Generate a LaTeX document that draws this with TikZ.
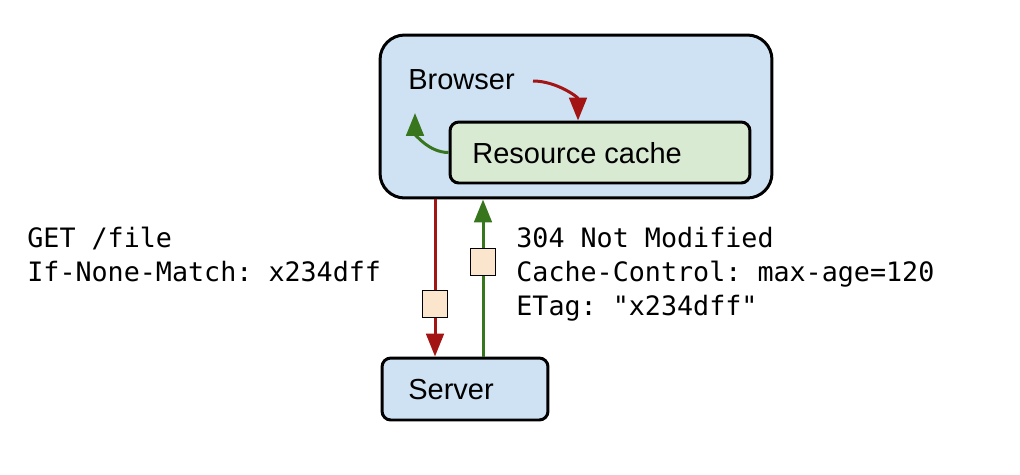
\documentclass[tikz,border=0pt]{standalone}
\usepackage{fontspec}
\setmainfont{Liberation Sans}
\setmonofont{DejaVu Sans Mono}
\usetikzlibrary{arrows.meta}

\definecolor{boxblue}{HTML}{CFE2F3}
\definecolor{boxgreen}{HTML}{D9EAD3}
\definecolor{msgpeach}{HTML}{FCE5CD}
\definecolor{reqred}{HTML}{A31515}
\definecolor{respgreen}{HTML}{38761D}

\tikzset{
  bigbox/.style={draw, line width=1.7pt, rounded corners=14pt, fill=boxblue,
    minimum width=7.84cm, minimum height=3.26cm, inner sep=0pt},
  cachebox/.style={draw, line width=1.7pt, rounded corners=5pt, fill=boxgreen,
    minimum width=6cm, minimum height=1.22cm, inner sep=0pt},
  serverbox/.style={draw, line width=1.7pt, rounded corners=5pt, fill=boxblue,
    minimum width=3.32cm, minimum height=1.24cm, inner sep=0pt},
  msg/.style={draw, line width=1.1pt, fill=msgpeach,
    minimum width=0.5cm, minimum height=0.54cm, inner sep=0pt},
  lbl/.style={font=\fontsize{16.5}{20}\selectfont, inner sep=0pt},
  hdr/.style={font=\ttfamily\fontsize{15.2}{19.3}\selectfont, align=left, inner sep=0pt},
  reqarrow/.style={draw=reqred, line width=1.7pt,
    -{Triangle[width=10pt,length=13pt]}},
  resparrow/.style={draw=respgreen, line width=1.7pt,
    -{Triangle[width=10pt,length=13pt]}},
}

\begin{document}
\begin{tikzpicture}[x=0.02cm, y=-0.02cm]
    \useasboundingbox (0,0) rectangle (1020,474);

    % boxes
    \node[bigbox] (browser) at (576,116.5) {};
    \node[cachebox] (cache) at (600,152.5) {};
    \node[serverbox] (server) at (465,389) {};

    \node[lbl, anchor=west] (browserlbl) at (408,80) {Browser};
    \node[lbl, anchor=west] (cachelbl) at (472,153) {Resource cache};
    \node[lbl] (serverlbl) at (451,390) {Server};

    % arrows inside the browser
    \coordinate (redstart) at (533,81);
    \coordinate (greenend) at (415,113);
    \draw[reqarrow] (redstart) to[out=0, in=90] (cache.north -| 578,0);
    \draw[resparrow] (cache.west) to[out=180, in=-90] (greenend);

    % request and response
    \coordinate (req) at (435,0);
    \coordinate (resp) at (483,0);
    \draw[reqarrow] (browser.south -| req) -- (server.north -| req);
    \draw[resparrow] (server.north -| resp) -- (browser.south -| resp);
    \node[msg] (reqmsg) at (435,304) {};
    \node[msg] (respmsg) at (483,262) {};

    % headers
    \node[hdr, anchor=north west] (reqhdr) at (27,227)
        {GET /file\\If-None-Match: x234dff};
    \node[hdr, anchor=north west] (resphdr) at (516,227)
        {304 Not Modified\\Cache-Control: max-age=120\\ETag: "x234dff"};
\end{tikzpicture}
\end{document}
